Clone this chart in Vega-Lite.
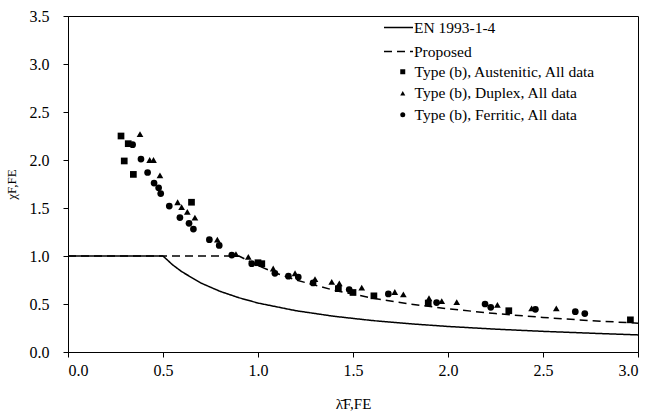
{
  "$schema": "https://vega.github.io/schema/vega-lite/v6.json",
  "width": 570,
  "height": 336,
  "autosize": {"type": "none"},
  "padding": {"left": 68, "top": 16, "right": 11, "bottom": 64},
  "background": "white",
  "config": {
    "font": "Liberation Serif",
    "view": {"stroke": "black", "strokeWidth": 1},
    "axis": {
      "grid": false,
      "domainColor": "black",
      "tickColor": "black",
      "labelColor": "black",
      "titleColor": "black",
      "labelFont": "Liberation Serif",
      "titleFont": "Liberation Serif",
      "labelFontSize": 16,
      "titleFontSize": 13,
      "titleFontWeight": "normal",
      "tickSize": 5
    },
    "legend": {
      "labelFont": "Liberation Serif",
      "labelFontSize": 15.5,
      "labelColor": "black",
      "labelLimit": 400,
      "padding": 0
    }
  },
  "datasets": {
    "lines": [
      {"lambda": 0.0, "chi": 1.0, "series": "EN 1993-1-4"},
      {"lambda": 0.5, "chi": 1.0, "series": "EN 1993-1-4"},
      {"lambda": 0.55, "chi": 0.909, "series": "EN 1993-1-4"},
      {"lambda": 0.6, "chi": 0.835, "series": "EN 1993-1-4"},
      {"lambda": 0.7, "chi": 0.718, "series": "EN 1993-1-4"},
      {"lambda": 0.8, "chi": 0.632, "series": "EN 1993-1-4"},
      {"lambda": 0.9, "chi": 0.565, "series": "EN 1993-1-4"},
      {"lambda": 1.0, "chi": 0.51, "series": "EN 1993-1-4"},
      {"lambda": 1.2, "chi": 0.43, "series": "EN 1993-1-4"},
      {"lambda": 1.4, "chi": 0.372, "series": "EN 1993-1-4"},
      {"lambda": 1.6, "chi": 0.328, "series": "EN 1993-1-4"},
      {"lambda": 1.8, "chi": 0.294, "series": "EN 1993-1-4"},
      {"lambda": 2.0, "chi": 0.266, "series": "EN 1993-1-4"},
      {"lambda": 2.25, "chi": 0.238, "series": "EN 1993-1-4"},
      {"lambda": 2.5, "chi": 0.215, "series": "EN 1993-1-4"},
      {"lambda": 2.75, "chi": 0.196, "series": "EN 1993-1-4"},
      {"lambda": 3.0, "chi": 0.178, "series": "EN 1993-1-4"},
      {"lambda": 0.0, "chi": 1.0, "series": "Proposed"},
      {"lambda": 0.9, "chi": 1.0, "series": "Proposed"},
      {"lambda": 1.0, "chi": 0.9, "series": "Proposed"},
      {"lambda": 1.1, "chi": 0.818, "series": "Proposed"},
      {"lambda": 1.2, "chi": 0.75, "series": "Proposed"},
      {"lambda": 1.4, "chi": 0.643, "series": "Proposed"},
      {"lambda": 1.6, "chi": 0.5625, "series": "Proposed"},
      {"lambda": 1.8, "chi": 0.5, "series": "Proposed"},
      {"lambda": 2.0, "chi": 0.45, "series": "Proposed"},
      {"lambda": 2.25, "chi": 0.4, "series": "Proposed"},
      {"lambda": 2.5, "chi": 0.36, "series": "Proposed"},
      {"lambda": 2.75, "chi": 0.327, "series": "Proposed"},
      {"lambda": 3.0, "chi": 0.3, "series": "Proposed"}
    ],
    "pts": [
      {"lambda": 0.279, "chi": 2.25, "series": "Type (b), Austenitic, All data"},
      {"lambda": 0.317, "chi": 2.17, "series": "Type (b), Austenitic, All data"},
      {"lambda": 0.296, "chi": 1.99, "series": "Type (b), Austenitic, All data"},
      {"lambda": 0.344, "chi": 1.85, "series": "Type (b), Austenitic, All data"},
      {"lambda": 0.65, "chi": 1.56, "series": "Type (b), Austenitic, All data"},
      {"lambda": 1.0, "chi": 0.93, "series": "Type (b), Austenitic, All data"},
      {"lambda": 1.02, "chi": 0.92, "series": "Type (b), Austenitic, All data"},
      {"lambda": 1.423, "chi": 0.66, "series": "Type (b), Austenitic, All data"},
      {"lambda": 1.5, "chi": 0.62, "series": "Type (b), Austenitic, All data"},
      {"lambda": 1.61, "chi": 0.585, "series": "Type (b), Austenitic, All data"},
      {"lambda": 1.896, "chi": 0.51, "series": "Type (b), Austenitic, All data"},
      {"lambda": 2.32, "chi": 0.43, "series": "Type (b), Austenitic, All data"},
      {"lambda": 2.96, "chi": 0.335, "series": "Type (b), Austenitic, All data"},
      {"lambda": 0.379, "chi": 2.27, "series": "Type (b), Duplex, All data"},
      {"lambda": 0.43, "chi": 2.0, "series": "Type (b), Duplex, All data"},
      {"lambda": 0.45, "chi": 2.0, "series": "Type (b), Duplex, All data"},
      {"lambda": 0.484, "chi": 1.84, "series": "Type (b), Duplex, All data"},
      {"lambda": 0.577, "chi": 1.56, "series": "Type (b), Duplex, All data"},
      {"lambda": 0.598, "chi": 1.51, "series": "Type (b), Duplex, All data"},
      {"lambda": 0.628, "chi": 1.46, "series": "Type (b), Duplex, All data"},
      {"lambda": 0.668, "chi": 1.4, "series": "Type (b), Duplex, All data"},
      {"lambda": 0.786, "chi": 1.17, "series": "Type (b), Duplex, All data"},
      {"lambda": 0.884, "chi": 1.02, "series": "Type (b), Duplex, All data"},
      {"lambda": 0.949, "chi": 0.99, "series": "Type (b), Duplex, All data"},
      {"lambda": 1.08, "chi": 0.87, "series": "Type (b), Duplex, All data"},
      {"lambda": 1.195, "chi": 0.82, "series": "Type (b), Duplex, All data"},
      {"lambda": 1.3, "chi": 0.76, "series": "Type (b), Duplex, All data"},
      {"lambda": 1.388, "chi": 0.73, "series": "Type (b), Duplex, All data"},
      {"lambda": 1.428, "chi": 0.715, "series": "Type (b), Duplex, All data"},
      {"lambda": 1.546, "chi": 0.67, "series": "Type (b), Duplex, All data"},
      {"lambda": 1.72, "chi": 0.625, "series": "Type (b), Duplex, All data"},
      {"lambda": 1.765, "chi": 0.6, "series": "Type (b), Duplex, All data"},
      {"lambda": 1.9, "chi": 0.56, "series": "Type (b), Duplex, All data"},
      {"lambda": 1.967, "chi": 0.53, "series": "Type (b), Duplex, All data"},
      {"lambda": 2.046, "chi": 0.52, "series": "Type (b), Duplex, All data"},
      {"lambda": 2.26, "chi": 0.49, "series": "Type (b), Duplex, All data"},
      {"lambda": 2.44, "chi": 0.455, "series": "Type (b), Duplex, All data"},
      {"lambda": 2.57, "chi": 0.455, "series": "Type (b), Duplex, All data"},
      {"lambda": 0.34, "chi": 2.16, "series": "Type (b), Ferritic, All data"},
      {"lambda": 0.384, "chi": 2.01, "series": "Type (b), Ferritic, All data"},
      {"lambda": 0.419, "chi": 1.87, "series": "Type (b), Ferritic, All data"},
      {"lambda": 0.453, "chi": 1.76, "series": "Type (b), Ferritic, All data"},
      {"lambda": 0.477, "chi": 1.71, "series": "Type (b), Ferritic, All data"},
      {"lambda": 0.488, "chi": 1.65, "series": "Type (b), Ferritic, All data"},
      {"lambda": 0.533, "chi": 1.52, "series": "Type (b), Ferritic, All data"},
      {"lambda": 0.589, "chi": 1.4, "series": "Type (b), Ferritic, All data"},
      {"lambda": 0.637, "chi": 1.34, "series": "Type (b), Ferritic, All data"},
      {"lambda": 0.66, "chi": 1.28, "series": "Type (b), Ferritic, All data"},
      {"lambda": 0.744, "chi": 1.17, "series": "Type (b), Ferritic, All data"},
      {"lambda": 0.796, "chi": 1.11, "series": "Type (b), Ferritic, All data"},
      {"lambda": 0.862, "chi": 1.01, "series": "Type (b), Ferritic, All data"},
      {"lambda": 0.967, "chi": 0.92, "series": "Type (b), Ferritic, All data"},
      {"lambda": 1.089, "chi": 0.82, "series": "Type (b), Ferritic, All data"},
      {"lambda": 1.16, "chi": 0.79, "series": "Type (b), Ferritic, All data"},
      {"lambda": 1.212, "chi": 0.78, "series": "Type (b), Ferritic, All data"},
      {"lambda": 1.29, "chi": 0.72, "series": "Type (b), Ferritic, All data"},
      {"lambda": 1.48, "chi": 0.65, "series": "Type (b), Ferritic, All data"},
      {"lambda": 1.686, "chi": 0.605, "series": "Type (b), Ferritic, All data"},
      {"lambda": 1.94, "chi": 0.515, "series": "Type (b), Ferritic, All data"},
      {"lambda": 2.195, "chi": 0.5, "series": "Type (b), Ferritic, All data"},
      {"lambda": 2.225, "chi": 0.465, "series": "Type (b), Ferritic, All data"},
      {"lambda": 2.46, "chi": 0.445, "series": "Type (b), Ferritic, All data"},
      {"lambda": 2.67, "chi": 0.42, "series": "Type (b), Ferritic, All data"},
      {"lambda": 2.72, "chi": 0.4, "series": "Type (b), Ferritic, All data"}
    ]
  },
  "layer": [
    {
      "data": {"name": "lines"},
      "mark": {"type": "line", "color": "black", "strokeWidth": 1.5},
      "encoding": {
        "x": {
          "field": "lambda", "type": "quantitative",
          "scale": {"domain": [0, 3], "nice": false},
          "axis": {"values": [0, 0.5, 1, 1.5, 2, 2.5, 3], "format": ".1f", "title": "λ̄F,FE", "titleFontSize": 15, "titlePadding": 18, "labelPadding": 5}
        },
        "y": {
          "field": "chi", "type": "quantitative",
          "scale": {"domain": [0, 3.5], "nice": false},
          "axis": {"values": [0, 0.5, 1, 1.5, 2, 2.5, 3, 3.5], "format": ".1f", "title": "χF,FE", "titlePadding": 11, "labelPadding": 14}
        },
        "strokeDash": {
          "field": "series", "type": "nominal",
          "scale": {"domain": ["EN 1993-1-4", "Proposed"], "range": [[1, 0], [8, 5]]},
          "legend": {
            "title": null, "orient": "none", "legendX": 315, "legendY": -4,
            "symbolType": "stroke", "symbolSize": 841, "symbolStrokeWidth": 1.5,
            "symbolStrokeColor": "black", "labelOffset": 0, "rowPadding": 0
          }
        }
      }
    },
    {
      "data": {"name": "pts"},
      "mark": {"type": "point", "filled": true, "color": "black", "opacity": 1, "size": 45},
      "encoding": {
        "x": {"field": "lambda", "type": "quantitative"},
        "y": {"field": "chi", "type": "quantitative"},
        "shape": {
          "field": "series", "type": "nominal",
          "scale": {
            "domain": ["Type (b), Austenitic, All data", "Type (b), Duplex, All data", "Type (b), Ferritic, All data"],
            "range": ["square", "triangle-up", "circle"]
          },
          "legend": {
            "title": null, "orient": "none", "legendX": 327, "legendY": 48,
            "symbolSize": 25, "symbolFillColor": "black", "symbolStrokeColor": "black",
            "symbolOpacity": 1, "labelOffset": 4, "rowPadding": 4.5
          }
        }
      }
    }
  ]
}
